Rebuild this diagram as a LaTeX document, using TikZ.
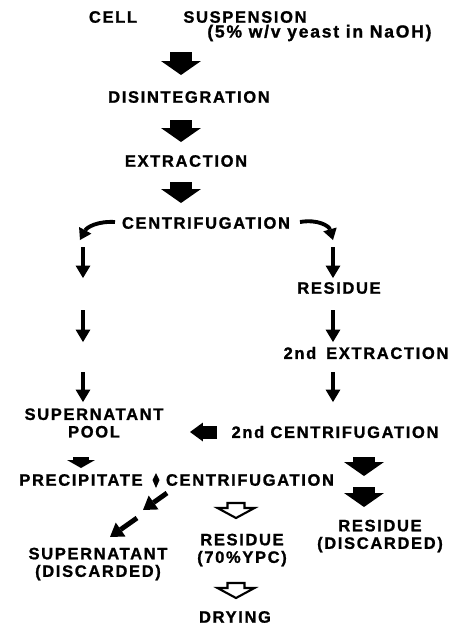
\documentclass[tikz,border=0pt]{standalone}
\usepackage{fontspec}
\newfontfamily\flowfont{Liberation Sans}[LetterSpace=10, BoldFeatures={FakeBold=1.2}]
\usetikzlibrary{arrows.meta, positioning}
\tikzset{
  stage/.style={font=\flowfont\bfseries\fontsize{9.4}{10}\selectfont, inner sep=0pt, align=center},
  bigblock/.style={line width=0.44cm, -{Triangle[width=0.8cm,length=0.28cm,line width=0pt]}},
  smallblock/.style={line width=0.34cm, -{Triangle[width=0.56cm,length=0.16cm,line width=0pt]}},
  leftblock/.style={line width=0.26cm, -{Triangle[width=0.38cm,length=0.26cm,line width=0pt]}},
  thinarrow/.style={line width=2.5pt, -{Triangle[width=0.3cm,length=0.25cm,line width=0pt]}},
  diagarrow/.style={line width=2.8pt, -{Triangle[width=0.34cm,length=0.26cm,line width=0pt]}},
  curvearrow/.style={line width=2.2pt, -{Triangle[width=0.28cm,length=0.22cm,line width=0pt]}},
  openblock/.pic={\draw[line width=1.2pt, line join=miter] (-8.5,0) -- (8.5,0) -- (8.5,5) -- (18.5,5) -- (0,15) -- (-18.5,5) -- (-8.5,5) -- cycle;}
}
\begin{document}
\begin{tikzpicture}[x=0.02cm, y=-0.02cm]
\useasboundingbox (0,0) rectangle (454,630);
% stages
\node[stage] (cell) at (113,17) {CELL};
\node[stage] (susp) at (245,17) {SUSPENSION};
\node[stage, anchor=west, font=\flowfont\bfseries\fontsize{10}{11}\selectfont] (yeast) at (207,33) {(5\% w/v yeast in NaOH)};
\node[stage] (dis) at (189,97) {DISINTEGRATION};
\node[stage] (ext) at (186,161) {EXTRACTION};
\node[stage] (cen) at (206,223) {CENTRIFUGATION};
\node[stage] (res) at (339,288) {RESIDUE};
\node[stage] (ext2) at (366,353) {2nd\hspace{0.6em}EXTRACTION};
\node[stage] (pool) at (94,423) {SUPERNATANT\\POOL};
\node[stage] (cen2) at (335,432) {2nd CENTRIFUGATION};
\node[stage] (prec) at (81,480) {PRECIPITATE};
\node[stage] (cen3) at (250,480) {CENTRIFUGATION};
\node[stage] (resd) at (380,536) {RESIDUE\\(DISCARDED)};
\node[stage] (ypc) at (242,550) {RESIDUE\\(70\%YPC)};
\node[stage] (supd) at (98,564) {SUPERNATANT\\(DISCARDED)};
\node[stage] (dry) at (235,617) {DRYING};
% arrow ends
\coordinate (m1) at (181,52); \coordinate (m2) at (181,75);
\coordinate (m3) at (181,120); \coordinate (m4) at (181,142);
\coordinate (m5) at (181,182); \coordinate (m6) at (181,203);
\coordinate (l0) at (80,240); \coordinate (r0) at (333,240);
\coordinate (l1) at (83,247); \coordinate (l2) at (83,278);
\coordinate (l3) at (83,310); \coordinate (l4) at (83,342);
\coordinate (l5) at (83,372); \coordinate (l6) at (83,402);
\coordinate (r1) at (333,247); \coordinate (r2) at (333,278);
\coordinate (r3) at (333,310); \coordinate (r4) at (333,342);
\coordinate (r5) at (333,372); \coordinate (r6) at (333,402);
\coordinate (p1) at (81,457); \coordinate (p2) at (81,468);
\coordinate (k1) at (217,432); \coordinate (k2) at (190,432);
\coordinate (d1) at (364,457); \coordinate (d2) at (364,476);
\coordinate (d3) at (364,487); \coordinate (d4) at (364,507);
\coordinate (g1) at (167,493); \coordinate (g2) at (143,510);
\coordinate (g3) at (137,518); \coordinate (g4) at (110,537);
% main line
\draw[bigblock] (m1) -- (m2);
\draw[bigblock] (m3) -- (m4);
\draw[bigblock] (m5) -- (m6);
\draw[curvearrow] (115,222) .. controls (98,221) and (87,227) .. (l0);
\draw[curvearrow] (300,222) .. controls (318,219) and (329,226) .. (r0);
% supernatant side
\draw[thinarrow] (l1) -- (l2);
\draw[thinarrow] (l3) -- (l4);
\draw[thinarrow] (l5) -- (l6);
% residue side
\draw[thinarrow] (r1) -- (r2);
\draw[thinarrow] (r3) -- (r4);
\draw[thinarrow] (r5) -- (r6);
\draw[leftblock] (k1) -- (k2);
\draw[bigblock] (d1) -- (d2);
\draw[bigblock] (d3) -- (d4);
% precipitation
\draw[smallblock] (p1) -- (p2);
\fill (156,473) -- (159.5,480) -- (156,488) -- (152.5,480) -- cycle;
\draw[diagarrow] (g1) -- (g2);
\draw[diagarrow] (g3) -- (g4);
\pic at (236,503) {openblock};
\pic at (236,583) {openblock};
\end{tikzpicture}
\end{document}
